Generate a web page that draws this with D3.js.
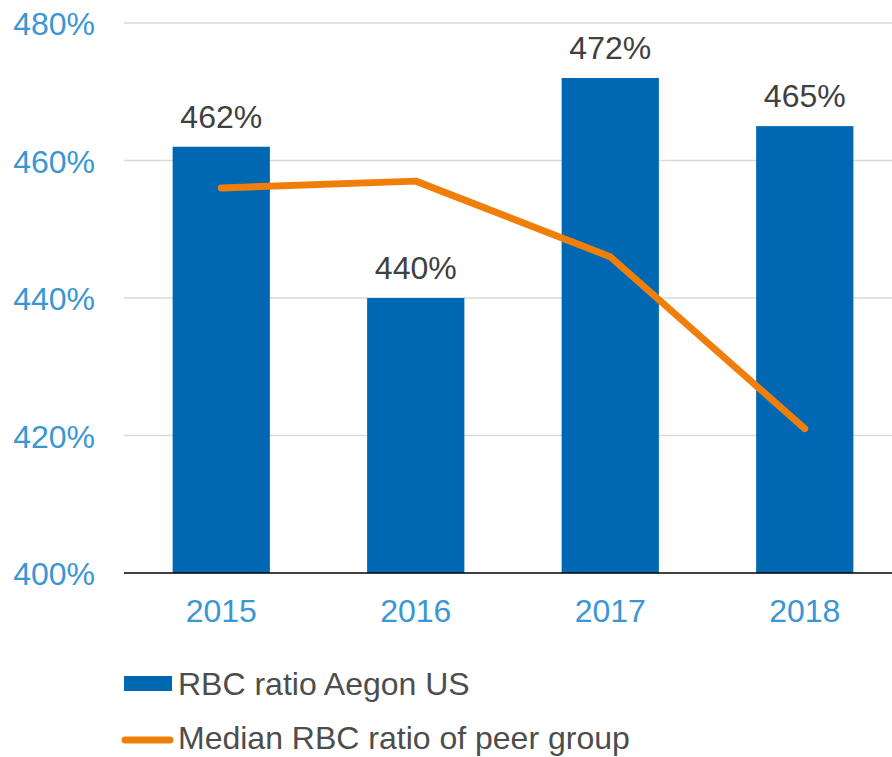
<!DOCTYPE html>
<html>
<head>
<meta charset="utf-8">
<script src="https://cdn.jsdelivr.net/npm/d3@7"></script>
<style>
  body { margin: 0; background: #fff; }
  text { font-family: "Liberation Sans", Arial, sans-serif; }
</style>
</head>
<body>
<div id="viz_div"></div>
<script>
// DATA
const years = ["2015", "2016", "2017", "2018"];
const aegonRbc = [462, 440, 472, 465];
const peerMedian = [456, 457, 446, 421];
const yTicks = [400, 420, 440, 460, 480];
const legendLabels = ["RBC ratio Aegon US", "Median RBC ratio of peer group"];

const width = 892, height = 757;
const plot = { left: 124, right: 902, top: 23, bottom: 573 };

const svg = d3.select("#viz_div").append("svg")
    .attr("width", width)
    .attr("height", height);

// SCALES
const x = d3.scaleBand().domain(years).range([plot.left, plot.right])
    .paddingInner(0.5).paddingOuter(0.25);
const y = d3.scaleLinear().domain([400, 480]).range([plot.bottom, plot.top]);

// GRIDLINES + Y LABELS
svg.append("g").selectAll("line")
    .data(yTicks.filter(d => d > 400))
    .enter().append("line")
    .attr("x1", plot.left).attr("x2", width)
    .attr("y1", d => y(d)).attr("y2", d => y(d))
    .attr("stroke", "#d9d9d9").attr("stroke-width", 1.5);

svg.append("g").selectAll("text")
    .data(yTicks)
    .enter().append("text")
    .attr("x", 95).attr("y", d => y(d) + 12)
    .attr("text-anchor", "end")
    .attr("fill", "#3a96d4")
    .style("font-size", "32px")
    .text(d => d + "%");

// BARS
svg.append("g").selectAll("rect")
    .data(years)
    .enter().append("rect")
    .attr("x", d => x(d))
    .attr("width", x.bandwidth())
    .attr("y", (d, i) => y(aegonRbc[i]))
    .attr("height", (d, i) => plot.bottom - y(aegonRbc[i]))
    .attr("fill", "#0068b2");

// BAR LABELS
svg.append("g").selectAll("text")
    .data(years)
    .enter().append("text")
    .attr("x", d => x(d) + x.bandwidth() / 2)
    .attr("y", (d, i) => y(aegonRbc[i]) - 19)
    .attr("text-anchor", "middle")
    .attr("fill", "#404040")
    .style("font-size", "32px")
    .text((d, i) => aegonRbc[i] + "%");

// X AXIS
svg.append("line")
    .attr("x1", plot.left).attr("x2", width)
    .attr("y1", plot.bottom).attr("y2", plot.bottom)
    .attr("stroke", "#000").attr("stroke-width", 1.5);

svg.append("g").selectAll("text")
    .data(years)
    .enter().append("text")
    .attr("x", d => x(d) + x.bandwidth() / 2)
    .attr("y", 622)
    .attr("text-anchor", "middle")
    .attr("fill", "#3a96d4")
    .style("font-size", "32px")
    .text(d => d);

// PEER MEDIAN LINE
svg.append("path")
    .datum(years)
    .attr("fill", "none")
    .attr("stroke", "#f07f09")
    .attr("stroke-width", 7)
    .attr("stroke-linecap", "round")
    .attr("stroke-linejoin", "round")
    .attr("d", d3.line()
        .x(d => x(d) + x.bandwidth() / 2)
        .y((d, i) => y(peerMedian[i])));

// LEGEND
svg.append("rect")
    .attr("x", 124).attr("y", 676)
    .attr("width", 48).attr("height", 15)
    .attr("fill", "#0068b2");
svg.append("line")
    .attr("x1", 125).attr("x2", 170)
    .attr("y1", 740).attr("y2", 740)
    .attr("stroke", "#f07f09").attr("stroke-width", 7)
    .attr("stroke-linecap", "round");

svg.append("g").selectAll("text")
    .data(legendLabels)
    .enter().append("text")
    .attr("x", 178)
    .attr("y", (d, i) => 695 + i * 54)
    .attr("fill", "#4d4d4d")
    .style("font-size", "32px")
    .text(d => d);
</script>
</body>
</html>
